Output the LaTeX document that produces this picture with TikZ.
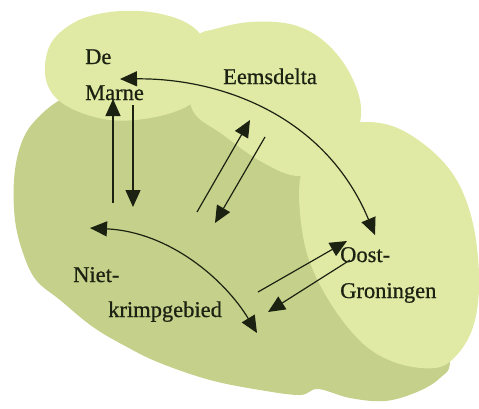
\documentclass[tikz,border=0pt]{standalone}
\usepackage{fontspec}
\setmainfont{Liberation Serif}[FakeBold=0.7]
\usetikzlibrary{arrows.meta}
\definecolor{lightg}{HTML}{E0EAA5}
\definecolor{midg}{HTML}{C5D18A}
\definecolor{inkc}{HTML}{1C2212}
\begin{document}
\begin{tikzpicture}[x=1pt,y=-1pt,
  lbl/.style={anchor=base west, inner sep=0pt, text=inkc, font=\fontsize{22.5}{27}\selectfont},
  conn/.style={draw=inkc, line width=1.2pt, -{Triangle[length=17pt,width=15pt]}},
  dconn/.style={draw=inkc, line width=1.2pt, {Triangle[length=17pt,width=15pt]}-{Triangle[length=17pt,width=15pt]}}]
\useasboundingbox (0,0) rectangle (479,408);
% big region (Niet-krimpgebied)
\fill[midg] plot[smooth cycle, tension=0.6] coordinates {
  (60,100) (33,123) (20,147) (14,180) (15,220) (23,253) (36,280) (60,300)
  (93,327) (127,347) (160,363) (210,380) (260,390) (300,395) (318,389)
  (350,398) (385,401) (417,392) (440,378) (450,360) (440,300) (400,220)
  (330,150) (250,105) (150,90) (90,92)};
% Eemsdelta
\fill[lightg] plot[smooth cycle, tension=0.6] coordinates {
  (197,37) (215,29) (250,22) (290,24) (320,38) (345,65) (360,100)
  (358,130) (340,160) (300,176) (262,162) (222,134) (193,111) (188,70)};
% Oost-Groningen
\fill[lightg] plot[smooth cycle, tension=0.6] coordinates {
  (365,122) (395,127) (425,145) (450,170) (466,200) (476,240) (479,290)
  (472,330) (455,357) (435,368) (400,364) (367,347) (337,313) (313,270)
  (302,230) (300,180) (315,145) (340,128)};
% De Marne
\fill[lightg] plot[smooth cycle, tension=0.6] coordinates {
  (50,45) (75,22) (110,12) (150,12) (185,22) (204,40) (210,70) (196,100)
  (160,116) (110,120) (65,105) (46,80)};
% labels
\node[lbl] (de) at (85,64) {De};
\node[lbl] (marne) at (85,100) {Marne};
\node[lbl] (eems) at (223,84) {Eemsdelta};
\node[lbl] (niet) at (73,282) {Niet-};
\node[lbl] (krimp) at (108,317) {krimpgebied};
\node[lbl] (oost) at (340,262) {Oost-};
\node[lbl] (gron) at (340,298) {Groningen};
% arrow end points
\coordinate (mUpS) at (113,203);
\coordinate (mUpE) at (113,99);
\coordinate (mDnS) at (133,105);
\coordinate (mDnE) at (133,207);
\coordinate (eUpS) at (197,212);
\coordinate (eUpE) at (250,120);
\coordinate (eDnS) at (265,137);
\coordinate (eDnE) at (215,223);
\coordinate (oUpS) at (258,292);
\coordinate (oUpE) at (347,241);
\coordinate (oDnS) at (350,260);
\coordinate (oDnE) at (268,312);
\coordinate (cM) at (120,79);
\coordinate (cO) at (375,235);
\coordinate (cN) at (90,228);
\coordinate (cK) at (257,333);
% connectors
\draw[conn] (mUpS) -- (mUpE);
\draw[conn] (mDnS) -- (mDnE);
\draw[conn] (eUpS) -- (eUpE);
\draw[conn] (eDnS) -- (eDnE);
\draw[conn] (oUpS) -- (oUpE);
\draw[conn] (oDnS) -- (oDnE);
\draw[dconn] (cM) .. controls (220,78) and (325,115) .. (cO);
\draw[dconn] (cN) .. controls (170,232) and (225,280) .. (cK);
\end{tikzpicture}
\end{document}
